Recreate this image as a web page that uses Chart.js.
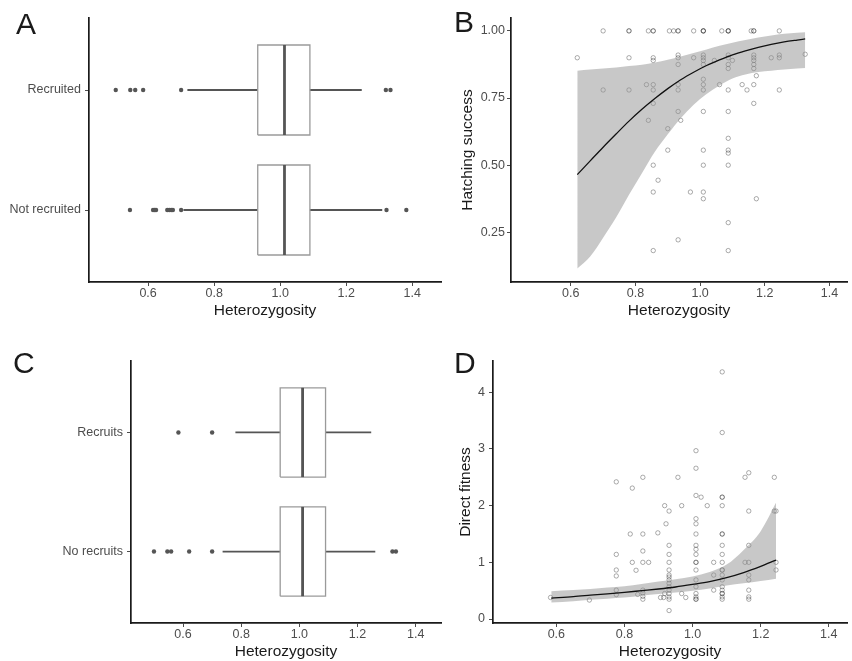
<!DOCTYPE html>
<html>
<head>
<meta charset="utf-8">
<script src="https://cdn.jsdelivr.net/npm/chart.js@4.4.1/dist/chart.umd.min.js"></script>
<style>
    body { margin: 0; width: 852px; height: 661px; overflow: hidden; background: #fff; position: relative; font-family: "Liberation Sans", Arial, sans-serif; }
    canvas { position: absolute; }
    .tag { position: absolute; font-size: 30px; line-height: 1; color: #1a1a1a; }
</style>
</head>
<body>
<canvas id="chartA" width="445" height="330" style="left:0;top:0"></canvas>
<canvas id="chartC" width="445" height="331" style="left:0;top:330px"></canvas>
<canvas id="chartB" width="422" height="330" style="left:430px;top:0"></canvas>
<canvas id="chartD" width="422" height="331" style="left:430px;top:330px"></canvas>
<div class="tag" style="left:16px;top:9px">A</div>
<div class="tag" style="left:454px;top:7px">B</div>
<div class="tag" style="left:13px;top:348px">C</div>
<div class="tag" style="left:454px;top:348px">D</div>

<script>
// DATA

const xTicks = [0.6, 0.8, 1.0, 1.2, 1.4];

// A: recruited vs not recruited
const recruitCats = ["Not recruited", "Recruited"];
const recruitQ1 = [0.932, 0.932];
const recruitMed = [1.013, 1.013];
const recruitQ3 = [1.09, 1.09];
const recruitLow = [0.707, 0.719];
const recruitHigh = [1.309, 1.247];
const recruitOut = [
    [0.545, 0.615, 0.62, 0.624, 0.658, 0.664, 0.67, 0.675, 0.70, 1.322, 1.382],
    [0.502, 0.546, 0.561, 0.585, 0.70, 1.32, 1.334]
];

// C: recruits vs no recruits
const offspringCats = ["No recruits", "Recruits"];
const offspringQ1 = [0.934, 0.934];
const offspringMed = [1.011, 1.011];
const offspringQ3 = [1.09, 1.09];
const offspringLow = [0.736, 0.78];
const offspringHigh = [1.261, 1.247];
const offspringOut = [
    [0.50, 0.546, 0.559, 0.621, 0.70, 1.32, 1.332],
    [0.584, 0.70]
];

// B: hatching success
const hatchX = [
    0.70, 0.78, 0.78, 0.84, 0.855, 0.855, 0.905, 0.918, 0.932, 0.932, 0.98, 1.01, 1.01, 1.01, 1.067, 1.087, 1.087, 1.087, 1.158, 1.166, 1.166, 1.245,
    0.62, 0.78, 0.855, 0.855, 0.932, 0.932, 0.932, 0.98, 1.01, 1.01, 1.01, 1.01, 1.044, 1.087, 1.087, 1.087, 1.087, 1.10, 1.166, 1.166, 1.166, 1.166, 1.166, 1.22, 1.245, 1.245, 1.325,
    0.70, 0.78, 0.834, 0.855, 0.855, 0.855, 0.932, 0.932, 1.01, 1.01, 1.01, 1.06, 1.087, 1.13, 1.145, 1.166, 1.174, 1.245, 1.166,
    0.932, 1.01, 1.087, 0.84, 0.94, 0.90,
    1.087, 1.087, 1.087, 0.90, 1.01,
    0.855, 1.01, 1.087, 0.87,
    0.855, 0.97, 1.01, 1.01, 1.174,
    1.087, 0.932, 0.855, 1.087
];
const hatchY = [
    1, 1, 1, 1, 1, 1, 1, 1, 1, 1, 1, 1, 1, 1, 1, 1, 1, 1, 1, 1, 1, 1,
    0.90, 0.90, 0.90, 0.89, 0.91, 0.90, 0.875, 0.90, 0.91, 0.90, 0.89, 0.875, 0.89, 0.91, 0.90, 0.875, 0.86, 0.89, 0.91, 0.90, 0.89, 0.875, 0.86, 0.90, 0.91, 0.90, 0.913,
    0.78, 0.78, 0.80, 0.80, 0.78, 0.73, 0.80, 0.78, 0.82, 0.80, 0.78, 0.80, 0.78, 0.80, 0.78, 0.80, 0.833, 0.78, 0.73,
    0.70, 0.70, 0.70, 0.667, 0.667, 0.636,
    0.60, 0.556, 0.545, 0.556, 0.556,
    0.50, 0.50, 0.50, 0.444,
    0.40, 0.40, 0.40, 0.375, 0.375,
    0.286, 0.222, 0.182, 0.182
];
const hatchCurveX = [0.62, 0.66, 0.70, 0.74, 0.78, 0.82, 0.86, 0.90, 0.94, 0.98, 1.02, 1.06, 1.10, 1.14, 1.18, 1.22, 1.26, 1.30, 1.325];
const hatchFit = [0.465, 0.516, 0.567, 0.616, 0.664, 0.708, 0.748, 0.785, 0.818, 0.846, 0.871, 0.892, 0.911, 0.926, 0.939, 0.950, 0.959, 0.966, 0.970];
const hatchLow = [0.115, 0.16, 0.23, 0.305, 0.39, 0.47, 0.55, 0.615, 0.675, 0.725, 0.765, 0.797, 0.823, 0.838, 0.847, 0.852, 0.856, 0.860, 0.862];
const hatchHigh = [0.852, 0.856, 0.86, 0.864, 0.869, 0.874, 0.882, 0.893, 0.905, 0.918, 0.931, 0.945, 0.956, 0.966, 0.975, 0.983, 0.989, 0.993, 0.995];

// D: direct fitness
const fitnessX = [
    0.583, 0.697,
    0.776, 0.776, 0.776, 0.776, 0.776, 0.776,
    0.817, 0.823, 0.823, 0.834, 0.839,
    0.854, 0.854, 0.854, 0.854, 0.854, 0.854, 0.854, 0.854,
    0.871, 0.898, 0.906, 0.915,
    0.918, 0.922, 0.918,
    0.931, 0.931, 0.931, 0.931, 0.931, 0.931, 0.931, 0.931, 0.931, 0.931, 0.931, 0.931, 0.931, 0.931, 0.931,
    0.957, 0.968, 0.968, 0.98,
    1.01, 1.01, 1.01, 1.01, 1.01, 1.01, 1.01, 1.01, 1.01, 1.01, 1.01, 1.01, 1.01, 1.01, 1.01, 1.01, 1.01, 1.01,
    1.025, 1.043, 1.062, 1.062, 1.062,
    1.087, 1.087, 1.087, 1.087, 1.087, 1.087, 1.087, 1.087, 1.087, 1.087, 1.087, 1.087, 1.087, 1.087, 1.087, 1.087, 1.087, 1.087, 1.087, 1.087,
    1.154, 1.154, 1.165, 1.165, 1.165, 1.165, 1.165, 1.165, 1.165, 1.165, 1.165,
    1.24, 1.24, 1.245, 1.245, 1.245
];
const fitnessY = [
    0.38, 0.335,
    2.42, 1.14, 0.865, 0.76, 0.51, 0.43,
    1.5, 2.31, 1.0, 0.86, 0.435,
    2.5, 1.5, 1.2, 1.0, 0.51, 0.46, 0.40, 0.35,
    1.0, 1.52, 0.38, 0.38,
    2.0, 1.68, 0.45,
    1.905, 1.30, 1.14, 1.0, 0.865, 0.776, 0.74, 0.69, 0.63, 0.57, 0.51, 0.45, 0.39, 0.35, 0.15,
    2.5, 2.0, 0.45, 0.38,
    2.97, 2.66, 2.18, 1.77, 1.68, 1.5, 1.30, 1.23, 1.14, 1.0, 1.0, 0.865, 0.69, 0.57, 0.45, 0.39, 0.35, 0.35,
    2.15, 2.0, 1.0, 0.776, 0.51,
    4.36, 3.29, 2.15, 2.15, 2.0, 1.5, 1.5, 1.30, 1.14, 1.0, 0.865, 0.865, 0.776, 0.69, 0.57, 0.51, 0.45, 0.45, 0.39, 0.35,
    2.5, 1.0, 2.58, 1.905, 1.30, 1.0, 0.776, 0.69, 0.51, 0.39, 0.35,
    2.5, 1.905, 1.905, 1.0, 0.865
];
const fitnessCurveX = [0.585, 0.65, 0.70, 0.75, 0.80, 0.85, 0.90, 0.95, 1.00, 1.05, 1.10, 1.15, 1.20, 1.245];
const fitnessFit = [0.37, 0.395, 0.42, 0.445, 0.47, 0.50, 0.53, 0.565, 0.61, 0.66, 0.73, 0.82, 0.93, 1.04];
const fitnessLow = [0.29, 0.315, 0.34, 0.36, 0.38, 0.41, 0.44, 0.47, 0.50, 0.54, 0.59, 0.63, 0.67, 0.71];
const fitnessHigh = [0.49, 0.51, 0.53, 0.555, 0.58, 0.62, 0.66, 0.70, 0.75, 0.83, 0.96, 1.22, 1.55, 2.05];

// STYLE

Chart.defaults.font.family = '"Liberation Sans", Arial, sans-serif';
Chart.defaults.animation = false;
Chart.defaults.plugins.legend.display = false;
Chart.defaults.plugins.tooltip.enabled = false;

const tickGrey = "#4d4d4d";
const boxDark = "#555555";
const ribbonFill = "rgba(150, 150, 150, 0.52)";
const pointEdge = "rgba(40, 40, 40, 0.48)";

function baseAxis() {
    return {
        border: { display: true, color: "#1a1a1a", width: 1.7 },
        grid: { display: true, drawOnChartArea: false, drawTicks: true, tickLength: 4, color: tickGrey, lineWidth: 1 },
        ticks: { color: tickGrey, font: { size: 12.5 }, autoSkip: false, maxRotation: 0 }
    };
}

function xAxis(min, max, height, titlePad) {
    const ax = baseAxis();
    ax.type = "linear";
    ax.min = min;
    ax.max = max;
    ax.afterBuildTicks = axis => { axis.ticks = xTicks.map(v => ({ value: v })); };
    ax.afterFit = axis => { axis.height = height; };
    ax.ticks.padding = 0;
    ax.ticks.callback = v => v.toFixed(1);
    ax.title = { display: true, text: "Heterozygosity", color: "#1a1a1a", font: { size: 15.5 }, padding: { top: 0, bottom: titlePad } };
    return ax;
}

function pts(xs, ys) {
    return xs.map((x, i) => ({ x: x, y: ys[i] }));
}

function seg(color, width, data) {
    return { type: "line", data, borderColor: color, borderWidth: width, pointRadius: 0, fill: false, tension: 0, borderCapStyle: "butt", borderJoinStyle: "miter" };
}

// BOX PANELS

function boxChart(id, cats, q1, med, q3, lo, hi, outs, yWidth, xHeight, padTop, titlePad) {
    const h = 0.375;
    const datasets = [];
    cats.forEach((c, i) => {
        const y = i + 1;
        datasets.push(Object.assign(seg(boxDark, 2.8, [{ x: med[i], y: y - h }, { x: med[i], y: y + h }]), { order: 0 }));
        datasets.push(Object.assign(seg("#9a9a9a", 1.3, [
            { x: q1[i], y: y - h }, { x: q3[i], y: y - h }, { x: q3[i], y: y + h }, { x: q1[i], y: y + h }, { x: q1[i], y: y - h }
        ]), { order: 1 }));
        datasets.push(Object.assign(seg(boxDark, 1.8, [{ x: lo[i], y }, { x: q1[i], y }]), { order: 2 }));
        datasets.push(Object.assign(seg(boxDark, 1.8, [{ x: q3[i], y }, { x: hi[i], y }]), { order: 2 }));
        datasets.push({
            type: "scatter", order: 0,
            data: outs[i].map(v => ({ x: v, y })),
            pointRadius: 2.2, pointBackgroundColor: boxDark, pointBorderWidth: 0
        });
    });

    const yAx = baseAxis();
    yAx.type = "linear";
    yAx.min = 0.4;
    yAx.max = 2.6;
    yAx.afterBuildTicks = axis => { axis.ticks = cats.map((c, i) => ({ value: i + 1 })); };
    yAx.afterFit = axis => { axis.width = yWidth; };
    yAx.ticks.padding = 4;
    yAx.ticks.callback = v => cats[v - 1];

    new Chart(document.getElementById(id), {
        type: "scatter",
        data: { datasets },
        options: {
            responsive: false,
            layout: { padding: { top: padTop, right: 0, bottom: 0, left: 0 } },
            scales: { x: xAxis(0.421, 1.487, xHeight, titlePad), y: yAx }
        }
    });
}

boxChart("chartA", recruitCats, recruitQ1, recruitMed, recruitQ3, recruitLow, recruitHigh, recruitOut, 89, 48, 18, 9.7);
boxChart("chartC", offspringCats, offspringQ1, offspringMed, offspringQ3, offspringLow, offspringHigh, offspringOut, 131, 38, 31, 0);

// SCATTER + FIT PANELS

function fitChart(id, xs, ys, cx, fit, low, high, yMin, yMax, yTicks, yFmt, yTitle, yWidth, yTitlePad, yTickPad, xMin, xMax, xHeight, padTop, titlePad) {
    const yAx = baseAxis();
    yAx.type = "linear";
    yAx.min = yMin;
    yAx.max = yMax;
    yAx.afterBuildTicks = axis => { axis.ticks = yTicks.map(v => ({ value: v })); };
    yAx.afterFit = axis => { axis.width = yWidth; };
    yAx.ticks.padding = yTickPad;
    yAx.ticks.callback = yFmt;
    yAx.title = { display: true, text: yTitle, color: "#1a1a1a", font: { size: 15.5 }, padding: { top: yTitlePad, bottom: 0 } };

    new Chart(document.getElementById(id), {
        type: "scatter",
        data: {
            datasets: [
                {
                    type: "scatter", order: 3,
                    data: pts(xs, ys),
                    pointRadius: 2.2, pointBorderWidth: 0.8,
                    pointBorderColor: pointEdge, pointBackgroundColor: "rgba(0,0,0,0)"
                },
                {
                    type: "line", order: 2,
                    data: pts(cx, high),
                    borderWidth: 0, pointRadius: 0, fill: "+1",
                    backgroundColor: ribbonFill, cubicInterpolationMode: "monotone"
                },
                {
                    type: "line", order: 2,
                    data: pts(cx, low),
                    borderWidth: 0, pointRadius: 0, fill: false,
                    cubicInterpolationMode: "monotone"
                },
                {
                    type: "line", order: 1,
                    data: pts(cx, fit),
                    borderColor: "#111", borderWidth: 1.3, pointRadius: 0, fill: false,
                    cubicInterpolationMode: "monotone"
                }
            ]
        },
        options: {
            responsive: false,
            layout: { padding: { top: padTop, right: 0, bottom: 0, left: 0 } },
            scales: { x: xAxis(xMin, xMax, xHeight, titlePad), y: yAx }
        }
    });
}

fitChart("chartB", hatchX, hatchY, hatchCurveX, hatchFit, hatchLow, hatchHigh,
    0.065, 1.048, [0.25, 0.5, 0.75, 1.0], v => v.toFixed(2), "Hatching success",
    81, 28.7, 2, 0.415, 1.455, 48, 18, 9.7);

fitChart("chartD", fitnessX, fitnessY, fitnessCurveX, fitnessFit, fitnessLow, fitnessHigh,
    -0.07, 4.552, [0, 1, 2, 3, 4], v => String(v), "Direct fitness",
    63, 26.7, 4, 0.414, 1.454, 38, 31, 0);
</script>
</body>
</html>
